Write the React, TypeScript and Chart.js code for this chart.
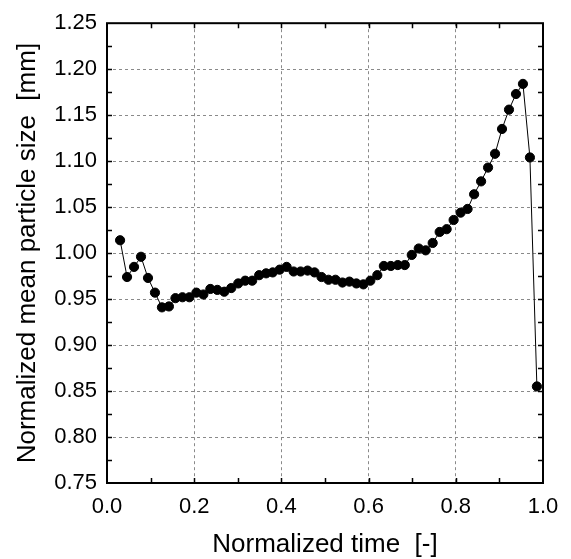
import React, { useEffect, useRef } from "react";
import { Chart, registerables } from "chart.js";

Chart.register(...registerables);

const xValues = [
  0.030, 0.046, 0.062, 0.078, 0.094, 0.110, 0.126, 0.142, 0.157, 0.173,
  0.189, 0.205, 0.221, 0.237, 0.253, 0.269, 0.285, 0.301, 0.317, 0.333,
  0.349, 0.365, 0.380, 0.396, 0.412, 0.428, 0.444, 0.460, 0.476, 0.492,
  0.508, 0.524, 0.540, 0.556, 0.572, 0.588, 0.604, 0.620, 0.635, 0.651,
  0.667, 0.683, 0.699, 0.715, 0.731, 0.747, 0.763, 0.779, 0.795, 0.811,
  0.827, 0.842, 0.858, 0.874, 0.890, 0.906, 0.922, 0.938, 0.954, 0.970,
  0.986,
];

const yValues = [
  1.014, 0.974, 0.985, 0.996, 0.973, 0.957, 0.941, 0.942, 0.951, 0.952,
  0.952, 0.957, 0.955, 0.961, 0.960, 0.958, 0.962, 0.967, 0.970, 0.970,
  0.976, 0.978, 0.979, 0.982, 0.985, 0.980, 0.980, 0.981, 0.979, 0.974,
  0.971, 0.971, 0.968, 0.969, 0.967, 0.966, 0.970, 0.976, 0.986, 0.986,
  0.987, 0.987, 0.998, 1.005, 1.003, 1.011, 1.023, 1.026, 1.036, 1.044,
  1.048, 1.064, 1.078, 1.093, 1.108, 1.135, 1.156, 1.173, 1.184, 1.104,
  0.855,
];

const xTitle = "Normalized time  [-]";
const yTitle = "Normalized mean particle size  [mm]";
const xMinorTicks = [0.1, 0.2, 0.3, 0.4, 0.5, 0.6, 0.7, 0.8, 0.9];
const yMinorTicks = [
  0.775, 0.8, 0.825, 0.85, 0.875, 0.9, 0.925, 0.95, 0.975, 1.0, 1.025,
  1.05, 1.075, 1.1, 1.125, 1.15, 1.175, 1.2, 1.225,
];

const FONT = "'Liberation Sans', Arial, sans-serif";

const framePlugin = {
  id: "frame",
  afterDraw(chart: any) {
    const { ctx, chartArea, scales } = chart;
    const { left, right, top, bottom } = chartArea;
    ctx.save();
    ctx.strokeStyle = "#000";
    ctx.lineWidth = 1.5;
    ctx.beginPath();
    const tl = 5;
    for (const v of xMinorTicks) {
      const px = Math.round(scales.x.getPixelForValue(v)) + 0.5;
      ctx.moveTo(px, bottom);
      ctx.lineTo(px, bottom - tl);
      ctx.moveTo(px, top);
      ctx.lineTo(px, top + tl);
    }
    for (const v of yMinorTicks) {
      const py = Math.round(scales.y.getPixelForValue(v)) + 0.5;
      ctx.moveTo(left, py);
      ctx.lineTo(left + tl, py);
      ctx.moveTo(right, py);
      ctx.lineTo(right - tl, py);
    }
    ctx.stroke();
    ctx.lineWidth = 2;
    ctx.strokeRect(left, top, right - left, bottom - top);

    ctx.fillStyle = "#000";
    ctx.font = `26px ${FONT}`;
    ctx.textAlign = "center";
    ctx.textBaseline = "alphabetic";
    ctx.fillText(xTitle, (left + right) / 2, 552);
    ctx.translate(35, (top + bottom) / 2);
    ctx.rotate(-Math.PI / 2);
    ctx.fillText(yTitle, 0, 0);
    ctx.restore();
  },
};

export default function App() {
  const ref = useRef<HTMLCanvasElement | null>(null);

  useEffect(() => {
    document.body.style.margin = "0";
    const canvas = ref.current;
    if (!canvas) return;
    const chart = new Chart(canvas, {
      type: "line",
      data: {
        datasets: [
          {
            data: xValues.map((x, i) => ({ x, y: yValues[i] })),
            borderColor: "#000",
            borderWidth: 1,
            backgroundColor: "#000",
            pointBackgroundColor: "#000",
            pointBorderColor: "#000",
            pointRadius: 4.6,
            pointBorderWidth: 1,
            tension: 0,
          },
        ],
      },
      options: {
        responsive: false,
        animation: false,
        devicePixelRatio: 1,
        layout: { padding: { top: 17, right: 28, left: 0, bottom: 0 } },
        plugins: {
          legend: { display: false },
          tooltip: { enabled: false },
        },
        scales: {
          x: {
            type: "linear",
            position: "bottom",
            min: 0,
            max: 1,
            afterFit(scale: any) {
              scale.height = 76;
            },
            ticks: {
              stepSize: 0.2,
              color: "#000",
              font: { family: FONT, size: 22 },
              padding: 11,
              maxRotation: 0,
              callback: (v: any) => Number(v).toFixed(1),
            },
            grid: {
              color: "#8a8a8a",
              lineWidth: 1,
              drawTicks: false,
            },
            border: { display: false, dash: [3, 3] },
          },
          y: {
            type: "linear",
            position: "left",
            min: 0.75,
            max: 1.25,
            afterFit(scale: any) {
              scale.width = 107;
            },
            ticks: {
              stepSize: 0.05,
              color: "#000",
              font: { family: FONT, size: 22 },
              padding: 10,
              callback: (v: any) => Number(v).toFixed(2),
            },
            grid: {
              color: "#8a8a8a",
              lineWidth: 1,
              drawTicks: false,
            },
            border: { display: false, dash: [3, 3] },
          },
        },
      },
      plugins: [framePlugin],
    });
    return () => chart.destroy();
  }, []);

  return (
    <div style={{ width: 571, height: 559 }}>
      <canvas ref={ref} width={571} height={559} />
    </div>
  );
}
